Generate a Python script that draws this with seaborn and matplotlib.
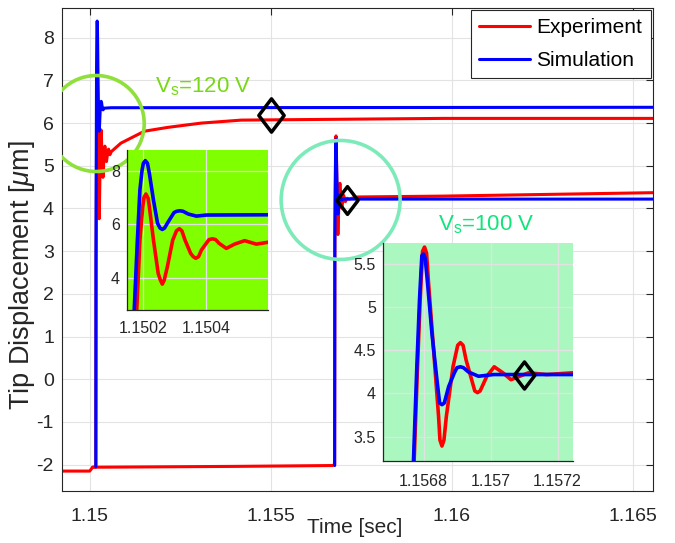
import numpy as np
import pandas as pd
import matplotlib
matplotlib.use("Agg")
import matplotlib.pyplot as plt
from matplotlib.patches import Ellipse
from matplotlib.lines import Line2D
from matplotlib.path import Path
from matplotlib.ticker import FuncFormatter
import seaborn as sns

# ---------------- measured tip displacement (µm) vs time (s) ----------------
# 120 V step, experiment
exp120_t = [1.14925, 1.15000, 1.15008, 1.150170, 1.150179, 1.150189, 1.150198,
            1.150202, 1.150208, 1.150215, 1.150219, 1.150232, 1.150247, 1.150254,
            1.150260, 1.150266, 1.150276, 1.150293, 1.150305, 1.150314, 1.150322,
            1.150332, 1.150350, 1.150358, 1.150366, 1.150375, 1.150384, 1.150408,
            1.150419, 1.150429, 1.150440, 1.150463, 1.150489, 1.150521, 1.150558,
            1.150595, 1.15086, 1.15151, 1.15216, 1.15308, 1.15419, 1.15975, 1.16555]
exp120_y = [-2.15, -2.15, -2.06, -2.05, 2.79, 5.41, 6.66,
            7.01, 7.14, 6.98, 6.66, 5.41, 4.16, 3.91,
            3.76, 3.91, 4.41, 5.41, 5.76, 5.84, 5.76,
            5.41, 4.91, 4.79, 4.73, 4.79, 5.04, 5.43,
            5.46, 5.43, 5.29, 5.10, 5.26, 5.39, 5.26,
            5.33, 5.53, 5.81, 5.90, 6.00, 6.07, 6.11, 6.11]

# 120 V step, simulation
sim120_t = [1.150168, 1.150171, 1.150181, 1.150189, 1.150196, 1.150200, 1.150206,
            1.150213, 1.150219, 1.150232, 1.150245, 1.150253, 1.150260, 1.150267,
            1.150279, 1.150297, 1.150305, 1.150316, 1.150326, 1.150342, 1.150368,
            1.150400, 1.150595, 1.16555]
sim120_y = [-2.05, 2.79, 5.41, 7.29, 8.04, 8.29, 8.39,
            8.29, 7.91, 6.91, 6.04, 5.86, 5.81, 5.86,
            6.10, 6.44, 6.49, 6.51, 6.49, 6.39, 6.31,
            6.35, 6.36, 6.37]

# 100 V step, experiment
exp100_t = [1.15008, 1.15400, 1.15670, 1.156765, 1.156772, 1.156782, 1.156790,
            1.156797, 1.156803, 1.156809, 1.156815, 1.156830, 1.156845, 1.156849,
            1.156855, 1.156861, 1.156868, 1.156888, 1.156902, 1.156910, 1.156918,
            1.156927, 1.156953, 1.156961, 1.156969, 1.156989, 1.157011, 1.157037,
            1.157061, 1.157113, 1.157168, 1.157245, 1.15740, 1.15975, 1.16555]
exp100_y = [-2.06, -2.04, -2.02, -2.00, 3.22, 4.31, 5.09,
            5.65, 5.70, 5.63, 5.28, 4.51, 3.73, 3.46,
            3.39, 3.46, 3.73, 4.31, 4.56, 4.59, 4.56,
            4.39, 4.03, 4.01, 4.03, 4.20, 4.31, 4.24,
            4.16, 4.24, 4.22, 4.24, 4.27, 4.29, 4.37]

# 100 V step, simulation
sim100_t = [1.156765, 1.156770, 1.156780, 1.156788, 1.156795, 1.156800, 1.156805,
            1.156812, 1.156825, 1.156840, 1.156848, 1.156855, 1.156862, 1.156875,
            1.156892, 1.156900, 1.156910, 1.156919, 1.156934, 1.156964, 1.157009,
            1.157245, 1.16555]
sim100_y = [-2.02, 3.22, 4.31, 5.09, 5.60, 5.62, 5.57,
            5.28, 4.70, 4.16, 3.89, 3.87, 3.89, 4.08,
            4.24, 4.30, 4.31, 4.30, 4.25, 4.20, 4.22,
            4.22, 4.22]

# settling markers
settle_t = [1.15500, 1.15710]
settle_y = [6.20, 4.21]

# highlighted regions: (centre time, centre displacement, radius in µm)
ring120 = (1.15018, 5.99, 1.124)
ring100 = (1.15693, 4.20, 1.393)

# labels
label_120 = "V$_\\mathrm{s}$=120 V"
label_100 = "V$_\\mathrm{s}$=100 V"
series_names = ["Experiment", "Simulation"]

main_xticks = [1.15, 1.155, 1.16, 1.165]
main_yticks = [-2, -1, 0, 1, 2, 3, 4, 5, 6, 7, 8]
ins1_xticks = [1.1502, 1.1504]
ins1_yticks = [4, 6, 8]
ins2_xticks = [1.1568, 1.1570, 1.1572]
ins2_yticks = [3.5, 4.0, 4.5, 5.0, 5.5]

# ---------------- long-form table ----------------
frames = []
for name, src, t, y in [("exp120", "Experiment", exp120_t, exp120_y),
                        ("exp100", "Experiment", exp100_t, exp100_y),
                        ("sim120", "Simulation", sim120_t, sim120_y),
                        ("sim100", "Simulation", sim100_t, sim100_y)]:
    frames.append(pd.DataFrame({"t": t, "disp": y, "source": src, "run": name}))
df = pd.concat(frames, ignore_index=True)

# ---------------- style ----------------
sns.set_theme(style="white")
plt.rcParams["font.family"] = ["Liberation Sans", "DejaVu Sans"]
plt.rcParams["mathtext.fontset"] = "custom"
plt.rcParams["mathtext.rm"] = "Liberation Sans"
plt.rcParams["mathtext.it"] = "Liberation Sans:italic"
plt.rcParams["mathtext.bf"] = "Liberation Sans:bold"
plt.rcParams["axes.unicode_minus"] = False

palette = {"Experiment": "#ff0000", "Simulation": "#0000ff"}
dark = "#262626"
fmt = FuncFormatter(lambda v, _: f"{v:g}")

# diamond outline marker (taller than wide)
diamond = Path([(0, 1), (0.76, 0), (0, -1), (-0.76, 0), (0, 1)],
               [Path.MOVETO, Path.LINETO, Path.LINETO, Path.LINETO, Path.CLOSEPOLY])

fig = plt.figure(figsize=(6.75, 5.43), dpi=100)
ax = fig.add_axes([0.0923, 0.0958, 0.8747, 0.8895])

sns.lineplot(data=df, x="t", y="disp", hue="source", units="run", estimator=None,
             sort=False, palette=palette, hue_order=series_names, linewidth=2.2,
             legend=False, ax=ax, zorder=2, solid_joinstyle="round")

ax.set_xlim(1.149243, 1.16555)
ax.set_ylim(-2.616, 8.696)
ax.set_xticks(main_xticks)
ax.set_yticks(main_yticks)
ax.xaxis.set_major_formatter(fmt)
ax.yaxis.set_major_formatter(fmt)
ax.grid(True, color="#e3e3e3", linewidth=0.8, zorder=0)
ax.set_axisbelow(True)
ax.tick_params(direction="in", length=5, width=0.8, colors=dark, labelsize=14,
               top=True, right=True)
ax.tick_params(axis="x", pad=12.5)
ax.tick_params(axis="y", pad=6)
for sp in ax.spines.values():
    sp.set_visible(True)
    sp.set_color(dark)
    sp.set_linewidth(0.8)
ax.set_xlabel("Time [sec]", fontsize=15, color=dark)
ax.set_ylabel("Tip Displacement [$\\mu$m]", fontsize=19.5, color=dark)
ax.xaxis.set_label_coords(0.4958, -0.055)
ax.yaxis.set_label_coords(-0.043, 0.447)

# rings drawn round in screen space
fig_w, fig_h = fig.get_size_inches() * fig.dpi
pos = ax.get_position()
px_per_x = pos.width * fig_w / (ax.get_xlim()[1] - ax.get_xlim()[0])
px_per_y = pos.height * fig_h / (ax.get_ylim()[1] - ax.get_ylim()[0])
for (ct, cy, r), col in [(ring120, "#8fe03a"), (ring100, "#7debb9")]:
    ax.add_patch(Ellipse((ct, cy), width=2 * r * px_per_y / px_per_x, height=2 * r,
                         fill=False, edgecolor=col, linewidth=2.6, zorder=3))

ax.text(1.15180, 6.71, label_120, color="#78d814", fontsize=16, va="baseline", ha="left")
ax.text(1.15962, 3.48, label_100, color="#10e57a", fontsize=16, va="baseline", ha="left")

for t, y, ms in zip(settle_t, settle_y, [24, 20]):
    ax.plot([t], [y], ls="none", marker=diamond, ms=ms, mfc="none", mec="black",
            mew=2.5, zorder=5)

leg = ax.legend(handles=[Line2D([], [], color=palette[n], lw=2.2) for n in series_names],
                labels=series_names, loc="upper right", fontsize=15, frameon=True,
                fancybox=False, edgecolor=dark, framealpha=1, borderaxespad=0.1,
                handlelength=2.45, handletextpad=0.3, labelspacing=0.65, borderpad=0.4)
leg.get_frame().set_linewidth(0.8)
for txt in leg.get_texts():
    txt.set_color("black")


def style_inset(ia, face, xlim, ylim, xt, yt, xpad):
    ia.set_facecolor(face)
    ia.set_xlim(*xlim)
    ia.set_ylim(*ylim)
    ia.set_xticks(xt)
    ia.set_yticks(yt)
    ia.xaxis.set_major_formatter(fmt)
    ia.yaxis.set_major_formatter(fmt)
    ia.grid(True, color="#e2e2e2", linewidth=0.9)
    ia.set_axisbelow(True)
    ia.tick_params(direction="in", length=4, width=0.8, colors=dark, labelsize=11.5)
    ia.tick_params(axis="x", pad=xpad)
    ia.tick_params(axis="y", pad=5)
    for side in ("top", "right"):
        ia.spines[side].set_visible(False)
    for side in ("left", "bottom"):
        ia.spines[side].set_visible(True)
        ia.spines[side].set_color(dark)
        ia.spines[side].set_linewidth(0.9)
    ia.set_xlabel("")
    ia.set_ylabel("")


# zoom on the 120 V step
ins1 = fig.add_axes([0.1881, 0.4291, 0.2089, 0.2947])
sns.lineplot(data=df, x="t", y="disp", hue="source", units="run", estimator=None,
             sort=False, palette=palette, hue_order=series_names, linewidth=2.6,
             legend=False, ax=ins1, solid_joinstyle="round")
style_inset(ins1, "#80ff00", (1.150148, 1.150595), (2.79, 8.79), ins1_xticks,
            ins1_yticks, 8)

# zoom on the 100 V step
ins2 = fig.add_axes([0.5674, 0.1516, 0.2809, 0.4004])
sns.lineplot(data=df, x="t", y="disp", hue="source", units="run", estimator=None,
             sort=False, palette=palette, hue_order=series_names, linewidth=2.6,
             legend=False, ax=ins2, solid_joinstyle="round")
style_inset(ins2, "#aaf8c0", (1.156679, 1.157245), (3.22, 5.744), ins2_xticks,
            ins2_yticks, 9.5)
ins2.plot([settle_t[1]], [settle_y[1]], ls="none", marker=diamond, ms=19.5, mfc="none",
          mec="black", mew=2.5, zorder=5)

fig.savefig("out.png", dpi=100)
